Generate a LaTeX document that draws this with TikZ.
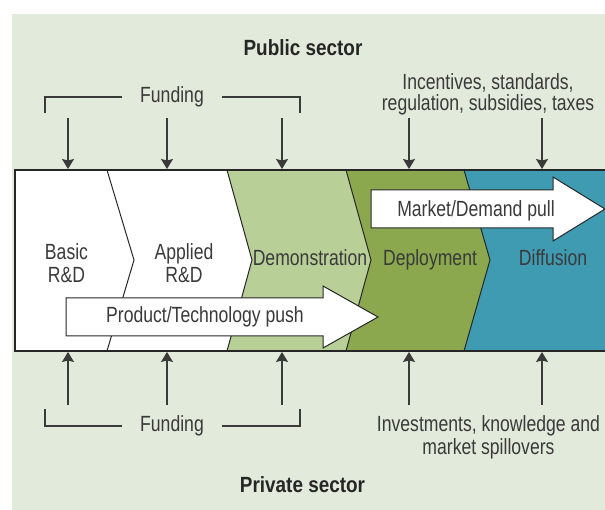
\documentclass[tikz,border=0pt]{standalone}
\usepackage{fontspec}
\setmainfont[FakeStretch=0.8,BoldFeatures={FakeStretch=0.86}]{Liberation Sans}
\usetikzlibrary{arrows.meta}
\definecolor{panel}{HTML}{E2EADB}
\definecolor{demofill}{HTML}{B9CF98}
\definecolor{deployfill}{HTML}{8BA84E}
\definecolor{difffill}{HTML}{3F9BB2}
\definecolor{ink}{HTML}{3A3A3A}

\begin{document}
\begin{tikzpicture}[x=1pt,y=-1pt,
    every node/.style={font=\fontsize{22}{22.5}\selectfont,text=ink,inner sep=0pt},
    feed/.style={-{Stealth[length=10pt,width=12pt,inset=1.5pt]},line width=1.3pt,draw=ink},
    bracket/.style={line width=1.1pt,draw=ink},
    bigarrow/.style={draw=black!85,fill=white,line width=1pt},
    sector/.style={font=\fontsize{22}{22}\selectfont\bfseries,text=black!85,anchor=base}]
	\useasboundingbox (0,0) rectangle (605,510);
	\fill[panel] (12,14) rectangle (605,510);

	% stages of the chain
	\fill[white] (15,170) -- (227,170) -- (252,260) -- (227,351) -- (15,351) -- cycle;
	\fill[demofill] (227,170) -- (346,170) -- (371,260) -- (346,351) -- (227,351) -- (252,260) -- cycle;
	\fill[deployfill] (346,170) -- (464,170) -- (490,260) -- (464,351) -- (346,351) -- (371,260) -- cycle;
	\fill[difffill] (464,170) -- (605,170) -- (605,351) -- (464,351) -- (490,260) -- cycle;
	\draw[line width=1.2pt,black!85] (605,170) -- (15,170) -- (15,351) -- (605,351);
	\foreach \a/\b in {107/134,227/252,346/371,464/490}
		\draw[line width=1pt,black!85] (\a,170) -- (\b,260) -- (\a,351);

	\node[align=center] (basic) at (66.5,263) {Basic\\R\&D};
	\node[align=center] (applied) at (184,263) {Applied\\R\&D};
	\node[anchor=base] (demo) at (310,266) {Demonstration};
	\node[anchor=base] (deploy) at (430,266) {Deployment};
	\node[anchor=base] (diffusion) at (553,266) {Diffusion};

	% push and pull
	\draw[bigarrow] (66,298) -- (323,298) -- (323,286) -- (378,317) -- (323,348) -- (323,336) -- (66,336) -- cycle;
	\node (push) at (205,317) {Product/Technology push};
	\draw[bigarrow] (371,190) -- (553,190) -- (553,177) -- (605,209) -- (553,241) -- (553,228) -- (371,228) -- cycle;
	\node (pull) at (476,211) {Market/Demand pull};

	% public sector
	\node[sector] (public) at (303,56) {Public sector};
	\node[inner xsep=18pt] (fundtop) at (172,97) {Funding};
	\draw[bracket] (45,113) |- (fundtop.west);
	\draw[bracket] (300,113) |- (fundtop.east);
	\node[align=center,font=\fontsize{22}{20.5}\selectfont] (policy) at (488,94.5) {Incentives, standards,\\regulation, subsidies, taxes};
	\foreach \x/\n in {68/a,167/b,282/c,409/d,542/e}{
		\coordinate (src\n) at (\x,118);
		\coordinate (in\n) at (\x,169);
		\draw[feed] (src\n) -- (in\n);
	}

	% private sector
	\node[sector] (private) at (302.5,492) {Private sector};
	\node[inner xsep=18pt] (fundbot) at (172,426) {Funding};
	\draw[bracket] (45,409) |- (fundbot.west);
	\draw[bracket] (300,409) |- (fundbot.east);
	\node[align=center] (invest) at (488.5,437.5) {Investments, knowledge and\\market spillovers};
	\foreach \x/\n in {68/a,167/b,282/c,409/d,542/e}{
		\coordinate (from\n) at (\x,405);
		\coordinate (out\n) at (\x,352);
		\draw[feed] (from\n) -- (out\n);
	}
\end{tikzpicture}
\end{document}
